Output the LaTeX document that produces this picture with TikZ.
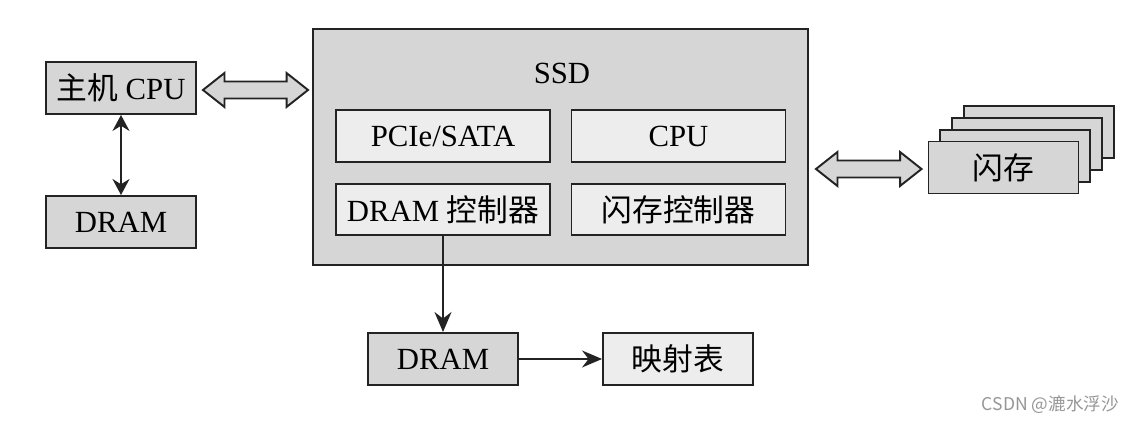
\documentclass[tikz,border=0pt]{standalone}
\usepackage{fontspec}
\setmainfont{Liberation Serif}
\newfontfamily\cjk{Noto Sans CJK SC}
\usetikzlibrary{arrows.meta,positioning,calc}
\definecolor{boxgray}{RGB}{214,214,214}
\definecolor{boxlight}{RGB}{237,237,237}
\definecolor{linedark}{RGB}{35,35,35}
\definecolor{markgray}{RGB}{150,150,150}
\newcommand{\fatarrow}[2]{%
  \draw[fatshape] let \p1=(#1), \p2=(#2) in
    (\x1,\y1) -- (\x1+0.43cm,\y1+0.34cm) -- (\x1+0.43cm,\y1+0.17cm) -- (\x2-0.43cm,\y1+0.17cm)
    -- (\x2-0.43cm,\y1+0.34cm) -- (\x2,\y1) -- (\x2-0.43cm,\y1-0.34cm) -- (\x2-0.43cm,\y1-0.17cm)
    -- (\x1+0.43cm,\y1-0.17cm) -- (\x1+0.43cm,\y1-0.34cm) -- cycle;}

\begin{document}
\begin{tikzpicture}[
  box/.style={draw=linedark,line width=1.1pt,minimum width=3cm,minimum height=1.04cm,inner sep=0pt,font=\fontsize{17.5}{20}\selectfont},
  darkbox/.style={box,fill=boxgray},
  lightbox/.style={box,fill=boxlight,minimum width=4.28cm},
  fatshape/.style={draw=linedark,line width=1.1pt,fill=boxgray,line join=miter},
  link/.style={draw=linedark,line width=1.1pt,-{Stealth[length=0.4cm,width=0.34cm]}},
  dlink/.style={draw=linedark,line width=1.1pt,{Stealth[length=0.32cm,width=0.34cm]}-{Stealth[length=0.32cm,width=0.34cm]}}]
  \useasboundingbox (0,0) rectangle (22.8,-8.44);
  % host side
  \node[darkbox] (host) at (2.42,-1.76) {{\cjk 主机} CPU};
  \node[darkbox] (hostdram) at (2.42,-4.44) {DRAM};
  \draw[dlink] (host) -- (hostdram);
  % SSD
  \node[box,fill=boxgray,minimum width=9.9cm,minimum height=4.72cm] (ssd) at (11.21,-2.94) {};
  \node[font=\fontsize{17.5}{20}\selectfont] (ssdlabel) at (11.24,-1.46) {SSD};
  \node[lightbox] (pcie) at (8.86,-2.72) {PCIe/SATA};
  \node[lightbox] (cpu) at (13.57,-2.72) {CPU};
  \node[lightbox,minimum height=1.02cm] (dramctl) at (8.86,-4.19) {DRAM {\cjk 控制器}};
  \node[lightbox,minimum height=1.02cm] (flashctl) at (13.57,-4.19) {\cjk 闪存控制器};
  % flash stack
  \coordinate (flashc) at (20.07,-3.35);
  \foreach \i in {3,2,1}
    \node[darkbox] (flash\i) at ($(flashc)+(0.236*\i,0.236*\i)$) {};
  \node[darkbox] (flash) at (flashc) {\cjk 闪存};
  % fat arrows
  \coordinate (la) at ($(host.east)+(0.12,-0.04)$);
  \coordinate (lb) at ($(host.east -| ssd.west)+(-0.08,-0.04)$);
  \fatarrow{la}{lb}
  \coordinate (ra) at ($(flash.west -| ssd.east)+(0.14,-0.03)$);
  \coordinate (rb) at ($(flash.west)+(-0.12,-0.03)$);
  \fatarrow{ra}{rb}
  % mapping
  \node[darkbox] (dram) at (8.86,-7.18) {DRAM};
  \node[lightbox,minimum width=3cm] (maptab) at (13.56,-7.18) {\cjk 映射表};
  \draw[link] (dramctl.south) -- (dram.north);
  \draw[link] (dram) -- (maptab);
  \node[anchor=east,text=markgray,font=\cjk\fontsize{10}{12}\selectfont] (mark) at (22.5,-8.1) {CSDN @漉水浮沙};
\end{tikzpicture}
\end{document}
